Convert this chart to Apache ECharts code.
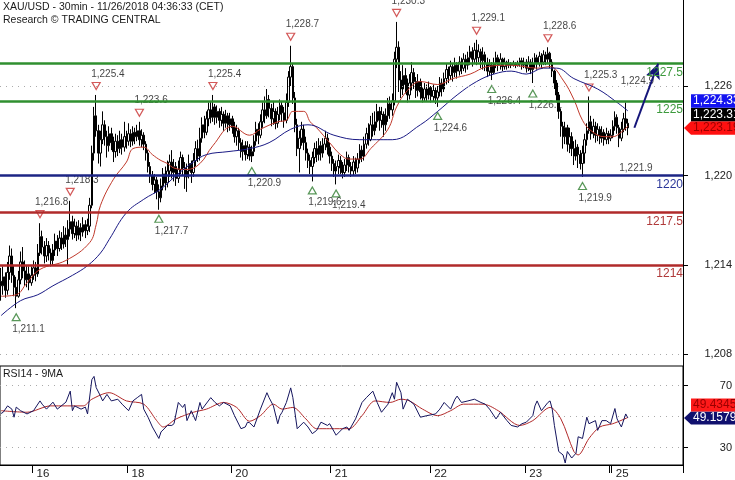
<!DOCTYPE html>
<html><head><meta charset="utf-8">
<script src="https://cdn.jsdelivr.net/npm/echarts@6/dist/echarts.min.js"></script>
<style>html,body{margin:0;padding:0;background:#fff}#c{width:735px;height:480px}</style>
</head><body><div id="c"></div>
<script>
// ---------- DATA ----------
const firstOpen = 1212.9;
const closes = [
1212.6,1213.2,1212.3,1213.5,1214.6,1213.3,1212.5,1211.9,1213.0,1214.2,1213.6,1213.0,1213.4,1212.8,1213.3,
1213.8,1213.4,1214.8,1215.9,1215.2,1214.6,1215.3,1214.8,1214.3,1215.0,1215.6,1215.1,1215.8,1215.4,1216.0,1215.7,
1216.4,1216.9,1216.1,1216.6,1216.0,1216.5,1216.2,1216.7,1216.3,1216.6,1218.0,1221.5,1224.0,1223.0,
1221.5,1222.4,1223.4,1222.6,1222.0,1222.8,1222.2,1221.6,1222.3,1221.8,1222.4,1221.9,1222.6,1222.3,
1222.8,1222.3,1222.9,1222.6,1223.0,1222.4,1222.7,1222.1,1221.5,1220.6,1220.0,1219.4,1219.7,1218.9,1218.5,
1219.3,1220.1,1219.5,1220.3,1220.9,1220.2,1220.6,1219.8,1220.4,1221.2,1220.5,1219.9,1220.3,1220.8,1220.2,1221.0,1221.8,1221.3,1222.5,1223.4,1222.9,1223.8,1224.4,1223.9,1224.6,
1223.9,1224.3,1223.7,1224.1,1223.5,1224.0,1223.4,1223.8,1223.2,1222.6,1223.0,1222.2,1221.6,1222.0,1221.4,1221.9,1221.3,
1221.6,1222.3,1223.1,1222.7,1223.6,1224.4,1224.0,1225.1,1224.5,1223.8,1224.3,1223.5,1224.1,1224.7,1224.2,1223.7,1224.9,1226.6,1227.3,
1225.2,1223.4,1221.8,1222.5,1223.1,1222.2,1221.5,1221.0,1220.6,1221.2,1221.8,1221.4,1222.0,1221.5,1222.1,1222.5,1221.9,1221.3,
1220.8,1220.3,1220.6,1221.0,1220.5,1220.2,1220.7,1221.2,1220.6,1220.3,1220.9,1220.5,1221.1,1221.7,1221.3,1222.1,1222.8,1222.4,1223.4,1223.0,
1223.6,1224.3,1223.7,1224.1,1223.4,1224.0,1224.8,1224.4,1225.0,1227.8,1228.6,1226.4,1225.8,1226.7,1226.1,1225.4,1226.2,1226.9,1226.3,1225.7,1226.3,1225.6,1225.2,1225.8,1225.4,1225.9,
1225.3,1225.7,1225.2,1225.6,1226.2,1225.8,1226.5,1227.1,1226.7,1227.3,1226.9,1227.4,1227.0,1227.6,1227.2,1227.8,1227.4,1227.9,1228.3,1227.8,
1228.4,1227.9,1228.3,1227.7,1228.1,1227.5,1227.0,1227.4,1226.9,1227.5,1227.9,1227.4,1227.8,1227.3,1227.6,1227.4,1227.5,1227.4,1227.5,1227.4,1227.5,1227.7,1227.4,1227.6,
1227.2,1227.6,1227.1,1227.5,1227.9,1227.5,1228.0,1227.6,1228.1,1227.8,1228.2,1227.6,1227.0,1226.2,1225.4,1224.3,1223.3,1222.6,1223.2,1222.1,
1222.6,1221.8,1221.3,1221.9,1221.4,1220.8,1221.5,1222.4,1223.0,1223.6,1222.8,1223.3,1222.7,1223.1,1222.5,1222.9,1222.4,1222.8,1222.5,1222.7,
1223.3,1223.9,1223.2,1222.5,1223.1,1223.8,1223.5,1223.19
];
const highs = [
1213.8,1213.9,1213.5,1214.2,1215.3,1215.1,1214.0,1213.2,1213.6,1214.9,1215.2,1214.3,1214.0,1213.9,1213.9,
1214.3,1214.2,1215.4,1216.8,1216.3,1215.6,1215.8,1215.6,1215.1,1215.4,1216.1,1216.0,1216.3,1216.2,1216.6,1216.5,
1217.0,1218.3,1217.3,1217.1,1216.9,1217.0,1216.8,1217.2,1217.0,1217.1,1218.5,1222.0,1224.6,1225.4,
1223.4,1223.0,1224.3,1223.7,1223.0,1223.3,1223.2,1222.6,1222.8,1222.7,1223.0,1222.8,1223.6,1223.0,
1223.5,1223.1,1223.3,1223.2,1223.4,1223.6,1223.1,1222.9,1222.3,1221.7,1220.9,1220.3,1220.1,1219.9,1219.4,
1219.8,1220.5,1220.6,1221.0,1221.4,1221.7,1221.1,1220.9,1221.0,1221.6,1221.4,1220.9,1220.8,1221.4,1221.0,1221.5,1222.3,1222.4,1223.2,1223.9,1224.0,1224.3,1224.9,1225.0,1225.4,
1224.8,1224.7,1224.5,1224.6,1224.3,1224.4,1224.2,1224.2,1224.0,1223.6,1223.4,1223.2,1222.5,1222.4,1222.3,1222.3,1222.1,
1222.0,1222.7,1223.6,1223.5,1224.1,1224.9,1225.3,1225.8,1225.4,1224.8,1225.0,1224.5,1224.6,1225.1,1225.0,1224.6,1225.5,1227.0,1228.7,
1227.5,1225.6,1223.8,1223.0,1223.6,1223.4,1222.6,1221.8,1221.4,1221.6,1222.2,1222.3,1222.5,1222.3,1222.5,1223.0,1222.8,1222.2,
1221.6,1221.1,1221.0,1221.4,1221.3,1220.9,1221.1,1221.6,1221.4,1220.9,1221.3,1221.2,1221.5,1222.1,1222.0,1222.6,1223.2,1223.5,1224.0,1224.2,
1224.3,1224.8,1224.6,1224.6,1224.3,1224.5,1225.2,1225.3,1225.5,1228.3,1230.3,1229.0,1227.0,1227.4,1227.2,1226.5,1226.8,1227.6,1227.2,1226.6,1226.8,1226.5,1225.9,1226.2,1226.1,1226.3,
1226.0,1226.1,1225.9,1226.0,1226.6,1226.5,1226.9,1227.5,1227.3,1227.7,1227.5,1227.9,1227.6,1228.0,1227.9,1228.2,1228.1,1228.3,1228.7,1228.6,
1228.9,1229.1,1228.8,1228.5,1228.6,1228.3,1227.9,1227.8,1227.6,1227.9,1228.3,1228.1,1228.2,1227.9,1227.9,1227.7,1227.8,1227.6,1227.7,1227.6,1227.7,1227.9,1227.9,1227.9,
1227.8,1228.0,1227.8,1227.9,1228.2,1228.1,1228.3,1228.2,1228.4,1228.3,1228.6,1228.3,1227.8,1227.1,1226.4,1225.6,1224.5,1223.6,1223.6,1223.4,
1223.2,1222.9,1222.3,1222.4,1222.1,1221.7,1222.0,1222.8,1223.5,1225.3,1224.0,1223.8,1223.6,1223.5,1223.3,1223.3,1223.1,1223.2,1223.0,1223.1,
1223.7,1224.3,1224.1,1223.4,1223.6,1224.2,1224.9,1223.8
];
const lows = [
1211.6,1212.0,1211.8,1212.0,1213.0,1212.8,1211.9,1211.1,1211.8,1212.7,1213.1,1212.6,1212.5,1212.3,1212.6,
1213.0,1212.9,1213.2,1214.6,1214.7,1214.1,1214.2,1214.3,1213.9,1214.0,1214.6,1214.6,1214.9,1215.0,1215.1,1215.2,
1214.0,1215.9,1215.7,1215.8,1215.6,1215.7,1215.6,1215.9,1215.8,1216.0,1216.2,1217.8,1221.0,1222.6,
1220.8,1220.6,1222.1,1222.0,1221.2,1221.6,1221.7,1220.9,1221.2,1221.3,1221.5,1221.4,1221.6,1221.8,
1222.0,1221.9,1222.0,1222.1,1222.3,1222.0,1221.9,1221.7,1221.0,1220.2,1219.5,1219.0,1218.8,1218.4,1217.7,
1218.2,1219.0,1219.0,1219.2,1219.9,1219.8,1219.6,1219.3,1219.5,1220.1,1220.0,1219.1,1218.9,1219.8,1219.5,1219.9,1220.6,1220.9,1221.0,1222.2,1222.5,1222.7,1223.3,1223.5,1223.6,
1223.4,1223.5,1223.2,1223.3,1223.0,1223.2,1222.9,1223.0,1222.8,1222.2,1222.0,1221.7,1221.2,1221.0,1221.0,1221.1,1221.0,
1220.9,1221.3,1222.0,1222.1,1222.5,1223.2,1223.5,1223.8,1223.9,1223.3,1223.4,1223.1,1223.2,1223.7,1223.6,1223.2,1223.5,1224.6,1226.0,
1224.8,1222.9,1221.3,1220.2,1222.0,1221.7,1221.0,1220.5,1220.1,1219.6,1220.8,1220.9,1221.0,1221.0,1221.2,1221.7,1221.4,1220.8,
1220.3,1219.9,1219.4,1220.1,1220.1,1219.8,1219.9,1220.3,1220.2,1219.9,1220.0,1220.1,1220.2,1220.8,1220.9,1221.0,1221.8,1222.0,1222.3,1222.6,
1222.7,1223.2,1223.0,1223.2,1222.6,1223.0,1223.6,1223.8,1224.0,1224.7,1227.2,1225.6,1225.2,1225.4,1225.5,1224.9,1225.1,1225.7,1225.8,1225.2,1225.3,1225.1,1224.9,1225.0,1225.0,1225.1,
1224.9,1225.0,1224.8,1224.6,1225.3,1225.3,1225.6,1226.1,1226.2,1226.4,1226.3,1226.6,1226.5,1226.7,1226.8,1227.0,1226.9,1227.1,1227.4,1227.3,
1227.5,1227.4,1227.6,1227.2,1227.1,1227.0,1226.6,1226.7,1226.4,1226.8,1227.2,1227.0,1227.1,1227.0,1227.1,1227.1,1227.2,1227.2,1227.3,1227.2,1227.3,1227.3,1227.1,1227.2,
1226.9,1227.0,1226.8,1226.2,1227.2,1227.1,1227.3,1227.2,1227.4,1227.4,1227.5,1227.2,1226.6,1225.8,1224.9,1223.8,1222.6,1221.8,1222.1,1221.6,
1221.5,1221.3,1220.7,1221.0,1220.5,1220.4,1219.9,1220.8,1222.0,1222.8,1222.4,1222.5,1222.2,1222.3,1222.1,1222.2,1222.0,1222.1,1222.1,1222.3,
1222.5,1223.0,1222.8,1221.9,1222.3,1222.9,1223.0,1222.7
];
const slotCount = 316;                       // candle slots incl. empty space on the right
const dayTickIdx    = [15, 59, 107, 153, 199, 243, 282, 283];
const dayTickLabels = ['16','18','20','21','22','23','','25'];

const swingHighIdx = [18, 32, 44, 64, 98, 134, 183, 220, 253, 272];
const swingHighVal = [1216.8, 1218.3, 1225.4, 1223.6, 1225.4, 1228.7, 1230.3, 1229.1, 1228.6, 1225.3];
const swingLowIdx  = [7, 73, 116, 144, 155, 202, 227, 246, 269];
const swingLowVal  = [1211.1, 1217.7, 1220.9, 1219.6, 1219.4, 1224.6, 1226.4, 1226.1, 1219.9];
const openHighIdx = [289], openHighVal = [1224.9];   // unmarked latest swing high
const openLowIdx  = [286], openLowVal  = [1221.9];   // unmarked latest swing low

const levels      = [1227.5, 1225, 1220, 1217.5, 1214];
const levelColors = ['#2f8f2f', '#2f8f2f', '#1c2585', '#b02a2a', '#b02a2a'];
const levelText   = ['#3d9a3d', '#3d9a3d', '#2a3699', '#b03a3a', '#b03a3a'];
const priceTicks  = [1208, 1214, 1220, 1226];

const maShort = [[0,1211.9],[7,1212.0],[12,1212.8],[18,1213.7],[30,1214.3],[41,1215.5],[44,1216.7],[46,1218.0],[52,1219.75],[58,1220.9],[61,1221.8],[66,1221.9],[70,1221.4],[74,1221.0],[77,1220.8],[80,1220.5],[86,1220.4],[92,1220.8],[98,1222.0],[107,1223.3],[115,1222.7],[120,1223.1],[128,1223.6],[132,1223.7],[135,1224.3],[140,1224.3],[143,1223.6],[146,1223.2],[152,1222.2],[157,1221.4],[161,1221.1],[166,1221.1],[171,1221.8],[179,1223.1],[183,1224.6],[188,1225.7],[194,1226.3],[202,1226.1],[209,1226.5],[217,1226.8],[225,1227.3],[236,1227.4],[248,1227.2],[254,1227.3],[260,1226.4],[265,1225.1],[269,1223.7],[273,1223.0],[279,1222.6],[283,1222.6],[286,1222.8],[290,1223.31]];
const maLong = [[0,1210.6],[9,1211.6],[17,1212.0],[24,1212.6],[33,1213.3],[40,1213.95],[46,1214.8],[50,1215.7],[58,1217.5],[66,1218.4],[74,1219.1],[81,1220.0],[89,1220.9],[95,1221.4],[105,1221.6],[115,1221.8],[124,1222.2],[134,1223.1],[142,1223.4],[154,1222.7],[166,1222.4],[181,1222.4],[194,1223.4],[202,1224.3],[211,1225.4],[220,1226.3],[228,1226.8],[236,1227.0],[243,1226.8],[251,1227.2],[257,1227.2],[265,1226.5],[276,1225.8],[285,1224.9],[290,1224.33]];

const rsi = [[0,52.0],[1,52.8],[3,56.9],[5,54.8],[6,49.6],[7,56.1],[9,53.8],[12,51.7],[15,53.8],[18,60.1],[19,58.0],[21,54.8],[24,59.3],[26,54.8],[30,59.3],[32,66.4],[33,53.8],[34,56.9],[37,54.8],[39,56.1],[40,51.7],[42,73.8],[43,75.9],[44,68.7],[46,63.2],[47,60.1],[49,64.3],[51,60.1],[54,61.2],[56,58.0],[59,53.8],[61,60.1],[63,62.2],[65,64.3],[66,54.8],[68,49.6],[70,43.3],[73,35.9],[74,40.1],[77,44.3],[79,44.3],[80,45.4],[82,59.1],[84,55.9],[85,58.0],[86,47.4],[88,53.8],[90,47.4],[92,59.1],[93,54.8],[97,62.2],[99,59.1],[101,56.9],[103,59.1],[106,56.9],[108,50.6],[111,42.2],[113,43.3],[114,46.4],[115,46.0],[117,43.3],[120,54.8],[123,65.4],[124,62.2],[126,56.9],[128,45.4],[129,50.6],[130,52.8],[132,59.1],[134,68.5],[135,62.2],[137,42.2],[140,46.4],[142,43.3],[144,39.0],[146,41.1],[148,46.4],[151,44.3],[152,45.4],[155,38.0],[158,42.2],[160,43.3],[161,41.1],[164,48.5],[167,59.1],[169,62.2],[172,66.4],[174,59.1],[176,52.8],[179,58.0],[181,65.4],[182,61.2],[183,72.1],[185,65.4],[186,54.8],[188,61.2],[191,58.0],[194,49.6],[197,50.6],[201,51.7],[203,54.8],[205,59.1],[208,54.8],[210,61.2],[211,63.2],[213,59.1],[216,60.1],[219,61.2],[222,59.1],[224,58.0],[226,54.8],[229,48.5],[230,50.6],[231,52.8],[234,47.5],[236,44.3],[239,43.3],[241,45.4],[243,46.4],[246,50.6],[247,56.9],[248,60.1],[250,53.8],[253,59.1],[254,60.1],[255,54.8],[256,44.3],[258,27.5],[260,25.3],[261,20.1],[262,27.5],[264,23.3],[266,26.4],[267,37.0],[269,35.9],[271,49.6],[272,45.4],[275,47.4],[276,41.1],[278,47.4],[280,47.4],[282,45.4],[284,55.2],[285,48.5],[287,43.3],[289,51.7],[290,49.1579]];
const rsiMA = [[0,53.8],[12,52.8],[23,56.9],[38,56.9],[42,61.2],[50,65.4],[58,60.1],[66,58.0],[72,47.4],[75,43.3],[81,48.5],[89,52.8],[95,54.8],[103,59.1],[109,55.9],[115,47.0],[120,50.6],[126,58.0],[130,54.8],[135,55.9],[141,48.5],[146,42.2],[152,42.2],[161,42.2],[167,50.6],[173,60.1],[180,59.1],[185,61.2],[189,60.1],[195,54.8],[202,50.6],[208,53.8],[214,58.0],[223,58.0],[230,53.8],[240,44.3],[246,47.4],[254,55.9],[259,48.5],[265,27.5],[267,25.3],[272,35.9],[277,43.3],[283,45.4],[290,49.4345]];
const rsiTicks = [30, 70];
const rsiGridLines = [30, 50, 70];
const forecastArrow = [[293, 1223.2], [304, 1227.5]];

// ---------- BUILD ----------
const FONT = 'Liberation Sans, Arial, sans-serif';
const cats = [];
for (let i = 0; i < slotCount; i++) {
  const k = dayTickIdx.indexOf(i);
  cats.push(k >= 0 ? dayTickLabels[k] : '');
}
const candleData = closes.map((c, i) => [i === 0 ? firstOpen : closes[i - 1], c, lows[i], highs[i]]);
const fmt1 = v => v.toLocaleString('en-US', {minimumFractionDigits: 1, maximumFractionDigits: 1});
const fmt2 = v => v.toLocaleString('en-US', {minimumFractionDigits: 2, maximumFractionDigits: 2});
const DOWN_TRI = 'path://M0,0L10,0L5,9Z';
const UP_TRI = 'path://M5,0L10,9L0,9Z';
const markLabel = {fontSize: 10, color: '#111', fontFamily: FONT};

const chart = echarts.init(document.getElementById('c'), null, {renderer: 'canvas'});
const option = {
  animation: false,
  backgroundColor: '#fff',
  textStyle: {fontFamily: FONT},
  title: [
    {text: 'XAU/USD - 30min - 11/26/2018 04:36:33 (CET)\nResearch © TRADING CENTRAL', left: 3, top: 1, padding: 0,
     textStyle: {fontSize: 10.5, fontWeight: 'normal', color: '#1a1a1a', lineHeight: 13, fontFamily: FONT}},
    {text: 'RSI14 - 9MA', left: 3, top: 369, padding: 0,
     textStyle: {fontSize: 10.5, fontWeight: 'normal', color: '#1a1a1a', fontFamily: FONT}}
  ],
  grid: [
    {left: 0, right: 52, top: 0, height: 366},
    {left: 0, right: 52, top: 366, height: 101, show: true, borderColor: '#000', borderWidth: 1, backgroundColor: 'transparent'}
  ],
  xAxis: [
    {type: 'category', gridIndex: 0, data: cats, show: false, boundaryGap: true},
    {type: 'category', gridIndex: 1, data: cats, boundaryGap: true,
     axisLine: {show: true, lineStyle: {color: '#000'}},
     axisTick: {show: true, length: 8, interval: (i) => dayTickIdx.indexOf(i) >= 0, lineStyle: {color: '#000'}},
     axisLabel: {interval: (i, v) => v !== '', align: 'left', margin: 3, padding: [0, 0, 0, 3], fontSize: 11.5, color: '#222', fontFamily: FONT},
     splitLine: {show: false}}
  ],
  yAxis: [
    {type: 'value', gridIndex: 0, position: 'right', min: 1207.22, max: 1231.77, scale: true,
     axisLine: {show: true, lineStyle: {color: '#000'}},
     axisTick: {show: true, customValues: priceTicks, length: 5, lineStyle: {color: '#000'}},
     axisLabel: {customValues: priceTicks, formatter: v => v.toLocaleString('en-US'), align: 'right', margin: 49, fontSize: 11, color: '#222', fontFamily: FONT},
     splitLine: {show: false}},
    {type: 'value', gridIndex: 1, position: 'right', min: 18.8, max: 82.6,
     axisLine: {show: true, lineStyle: {color: '#000'}},
     axisTick: {show: true, customValues: rsiTicks, length: 5, lineStyle: {color: '#000'}},
     axisLabel: {customValues: rsiTicks, align: 'right', margin: 49, fontSize: 11, color: '#222', fontFamily: FONT},
     splitLine: {show: false}}
  ],
  series: [
    { // support / resistance levels and dotted grid (behind candles)
      type: 'line', xAxisIndex: 0, yAxisIndex: 0, data: [], z: 1, silent: true,
      markLine: {
        silent: true, symbol: ['none', 'none'], animation: false,
        data: priceTicks.map(v => ({yAxis: v, lineStyle: {color: '#aaa', type: [1, 5], width: 1}, label: {show: false}}))
          .concat(levels.map((v, k) => ({
            yAxis: v,
            lineStyle: {color: levelColors[k], width: 2.6, type: 'solid'},
            label: {show: true, position: 'insideEndBottom', distance: [0, 3], formatter: String(v), color: levelText[k], fontSize: 12, fontFamily: FONT}
          })))
      }
    },
    {
      type: 'candlestick', xAxisIndex: 0, yAxisIndex: 0, data: candleData, barWidth: 2, z: 2,
      itemStyle: {color: '#fff', color0: '#000', borderColor: '#000', borderColor0: '#000', borderWidth: 1},
      silent: true,
      markLine: {
        silent: true, symbol: ['none', 'arrow'], symbolSize: [11, 15], animation: false,
        lineStyle: {color: '#15157a', width: 2, type: 'solid'}, label: {show: false},
        data: [[{coord: forecastArrow[0]}, {coord: forecastArrow[1]}]]
      }
    },
    {type: 'line', xAxisIndex: 0, yAxisIndex: 0, data: maShort, smooth: 0.4, symbol: 'none', z: 3, silent: true,
     lineStyle: {color: '#c0392b', width: 1}},
    {type: 'line', xAxisIndex: 0, yAxisIndex: 0, data: maLong, smooth: 0.4, symbol: 'none', z: 3, silent: true,
     lineStyle: {color: '#1a1a85', width: 1}},
    {type: 'scatter', xAxisIndex: 0, yAxisIndex: 0, z: 1, silent: true,
     data: swingHighIdx.map((x, k) => [x, swingHighVal[k]]),
     symbol: DOWN_TRI, symbolSize: [8, 7], symbolOffset: [0, -9],
     itemStyle: {color: 'rgba(255,255,255,0)', borderColor: '#c83030', borderWidth: 1.2},
     label: Object.assign({show: true, position: 'top', distance: 3, align: 'left', offset: [-5, 0], formatter: p => fmt1(p.value[1])}, markLabel)},
    {type: 'scatter', xAxisIndex: 0, yAxisIndex: 0, z: 1, silent: true,
     data: swingLowIdx.map((x, k) => [x, swingLowVal[k]]),
     symbol: UP_TRI, symbolSize: [8, 7], symbolOffset: [0, 9],
     itemStyle: {color: 'rgba(255,255,255,0)', borderColor: '#2e7d2e', borderWidth: 1.2},
     label: Object.assign({show: true, position: 'bottom', distance: 3, align: 'left', offset: [-4, 0], formatter: p => fmt1(p.value[1])}, markLabel)},
    {type: 'scatter', xAxisIndex: 0, yAxisIndex: 0, z: 1, silent: true,
     data: openHighIdx.map((x, k) => [x, openHighVal[k]]),
     symbol: DOWN_TRI, symbolSize: [8, 7], symbolOffset: [0, -9],
     itemStyle: {color: 'rgba(0,0,0,0)', borderColor: 'rgba(0,0,0,0)'},
     label: Object.assign({show: true, position: 'top', distance: 3, align: 'left', offset: [-5, 0], formatter: p => fmt1(p.value[1])}, markLabel)},
    {type: 'scatter', xAxisIndex: 0, yAxisIndex: 0, z: 1, silent: true,
     data: openLowIdx.map((x, k) => [x, openLowVal[k]]),
     symbol: UP_TRI, symbolSize: [8, 7], symbolOffset: [0, 9],
     itemStyle: {color: 'rgba(0,0,0,0)', borderColor: 'rgba(0,0,0,0)'},
     label: Object.assign({show: true, position: 'bottom', distance: 3, align: 'left', offset: [0, 0], formatter: p => fmt1(p.value[1])}, markLabel)},
    {type: 'line', xAxisIndex: 1, yAxisIndex: 1, data: rsiMA, symbol: 'none', smooth: 0.3, silent: true, z: 2,
     lineStyle: {color: '#b22a2a', width: 1}},
    {type: 'line', xAxisIndex: 1, yAxisIndex: 1, data: rsi, symbol: 'none', silent: true, z: 3,
     lineStyle: {color: '#15155e', width: 1},
     markLine: {silent: true, symbol: ['none', 'none'], label: {show: false}, z: 1,
       lineStyle: {color: '#aaa', type: [1, 5], width: 1},
       data: rsiGridLines.map(v => ({yAxis: v}))}}
  ]
};
chart.setOption(option);

// ---------- value tags on the right ----------
function tagGroup(yc, text, bg, fg, arrow, h) {
  const x0 = 691, x1 = 745, top = yc - h / 2, bot = yc + h / 2;
  const pts = arrow ? [[684, yc], [x0, top], [x1, top], [x1, bot], [x0, bot]] : [[x0, top], [x1, top], [x1, bot], [x0, bot]];
  return [
    {type: 'polygon', shape: {points: pts}, style: {fill: bg}, z: 100, silent: true},
    {type: 'text', x: 693, y: yc, style: {text: text, fill: fg, font: '12px ' + FONT, textVerticalAlign: 'middle', verticalAlign: 'middle'}, z: 101, silent: true}
  ];
}
function stackTags(tags, axisIdx, h) {
  const out = [];
  let prevY = null;
  tags.forEach(t => {
    let y = chart.convertToPixel({yAxisIndex: axisIdx}, t.v);
    if (prevY !== null) y = Math.min(y, prevY - h);
    prevY = y;
    out.push(...tagGroup(y, t.text, t.bg, t.fg, t.arrow, h));
  });
  return out;
}
const lastClose = closes[closes.length - 1];
const maShortLast = maShort[maShort.length - 1][1];
const maLongLast = maLong[maLong.length - 1][1];
const rsiLast = rsi[rsi.length - 1][1];
const rsiMALast = rsiMA[rsiMA.length - 1][1];
const graphics = stackTags([
  {v: lastClose, text: fmt2(lastClose), bg: '#ff1010', fg: '#9a0000', arrow: true},
  {v: maShortLast, text: fmt2(maShortLast), bg: '#000000', fg: '#ffffff', arrow: false},
  {v: maLongLast, text: fmt2(maLongLast), bg: '#1414f0', fg: '#ffffff', arrow: false}
], 0, 13.5).concat(stackTags([
  {v: rsiLast, text: rsiLast.toFixed(4), bg: '#10106e', fg: '#ffffff', arrow: true},
  {v: rsiMALast, text: rsiMALast.toFixed(4), bg: '#ff1a1a', fg: '#9a0000', arrow: false}
], 1, 13));
chart.setOption({graphic: graphics});
</script>
</body></html>
